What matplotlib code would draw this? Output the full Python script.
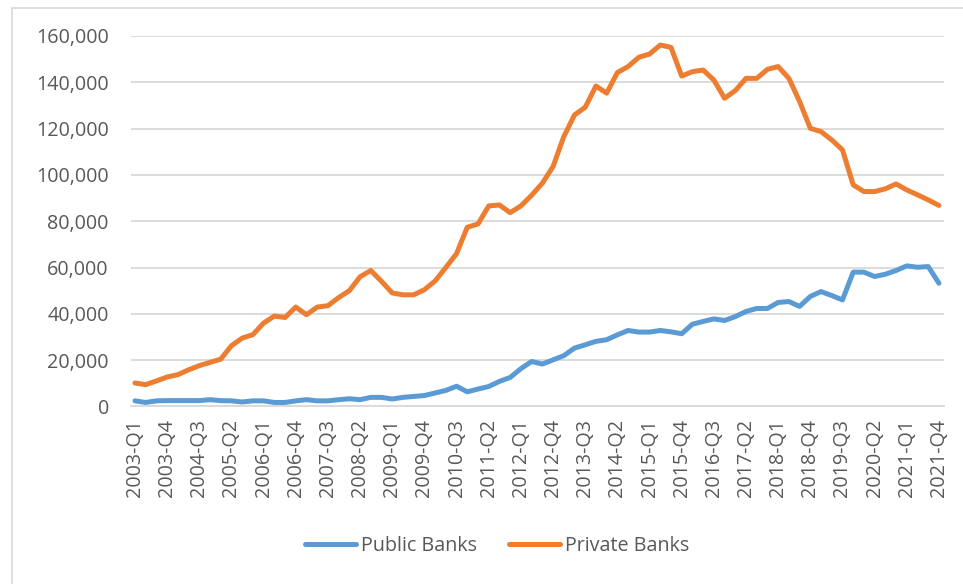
import matplotlib
matplotlib.use("Agg")
import matplotlib.pyplot as plt
from matplotlib.patches import Rectangle
from matplotlib.ticker import FuncFormatter

# Quarterly series, 2003-Q1 .. 2021-Q4
quarters = [f"{y}-Q{q}" for y in range(2003, 2022) for q in range(1, 5)]

public_banks = [
    2400, 1700, 2400, 2500, 2500, 2500, 2500, 2900, 2500, 2400,
    1900, 2400, 2400, 1700, 1700, 2400, 2900, 2400, 2400, 2900,
    3300, 2900, 3900, 3900, 3200, 3900, 4300, 4700, 5800, 6900,
    8700, 6300, 7500, 8600, 10800, 12500, 16300, 19400, 18300, 20100,
    21900, 25200, 26600, 28100, 28800, 30900, 32800, 32100, 32100, 32800,
    32200, 31400, 35500, 36700, 37800, 37100, 38800, 41000, 42300, 42300,
    44900, 45300, 43200, 47500, 49600, 47900, 46000, 58000, 58000, 56100,
    57100, 58700, 60700, 60100, 60400, 53200,
]

private_banks = [
    10100, 9400, 11000, 12700, 13700, 15800, 17600, 19000, 20400, 26200,
    29500, 31000, 36000, 39000, 38400, 42900, 39600, 42900, 43500, 47000,
    50000, 56000, 58700, 54000, 49000, 48200, 48200, 50400, 54200, 60000,
    66000, 77400, 78800, 86600, 87000, 83700, 86600, 91200, 96400, 103600,
    116500, 125900, 129200, 138400, 135300, 144200, 146800, 150800, 152200, 156100,
    155100, 142700, 144600, 145300, 141000, 133100, 136400, 141700, 141700, 145600,
    146800, 141700, 131700, 120100, 118700, 115100, 110800, 95700, 92800, 92800,
    94000, 96100, 93500, 91400, 89200, 86800,
]

tick_step = 3
series_names = ["Public Banks", "Private Banks"]

BLUE = "#5B9BD5"
ORANGE = "#ED7D31"
GRID = "#D9D9D9"
TEXT = "#595959"

plt.rcParams["font.family"] = ["Open Sans", "DejaVu Sans"]

fig = plt.figure(figsize=(9.63, 5.84), dpi=100)
ax = fig.add_axes([131 / 963, 1 - 406.4 / 584, (944 - 131) / 963, (406.4 - 36) / 584])

x = list(range(len(quarters)))
ax.plot(x, public_banks, color=BLUE, lw=3.6, solid_joinstyle="round",
        solid_capstyle="round", label=series_names[0])
ax.plot(x, private_banks, color=ORANGE, lw=3.6, solid_joinstyle="round",
        solid_capstyle="round", label=series_names[1])

ax.set_xlim(-0.37, len(quarters) - 1 + 0.47)
ax.set_ylim(0, 160000)
ax.set_yticks(range(0, 160001, 20000))
ax.yaxis.set_major_formatter(FuncFormatter(lambda v, p: f"{int(v):,}"))
ax.set_xticks(x[::tick_step])
ax.set_xticklabels(quarters[::tick_step], rotation=90)

ax.grid(axis="y", color=GRID, lw=1.3)
ax.set_axisbelow(True)
for side in ["top", "right", "left"]:
    ax.spines[side].set_visible(False)
ax.spines["bottom"].set_color(GRID)
ax.spines["bottom"].set_linewidth(1.3)

ax.tick_params(axis="y", length=0, pad=16, labelsize=14.2, labelcolor=TEXT)
ax.tick_params(axis="x", length=0, pad=9, labelsize=14.2, labelcolor=TEXT)

fig.legend(loc="center", bbox_to_anchor=(497 / 963, 1 - 546 / 584), ncol=2,
           frameon=False, fontsize=14.2, labelcolor=TEXT, handlelength=2.6,
           handletextpad=0.25, columnspacing=1.6)

# chart-area border
fig.patches.append(Rectangle((12 / 963, -0.1), 1.2, 1.1 - 8 / 584,
                             transform=fig.transFigure, fill=False,
                             edgecolor=GRID, lw=1.2))

fig.savefig("out.png", dpi=100)
